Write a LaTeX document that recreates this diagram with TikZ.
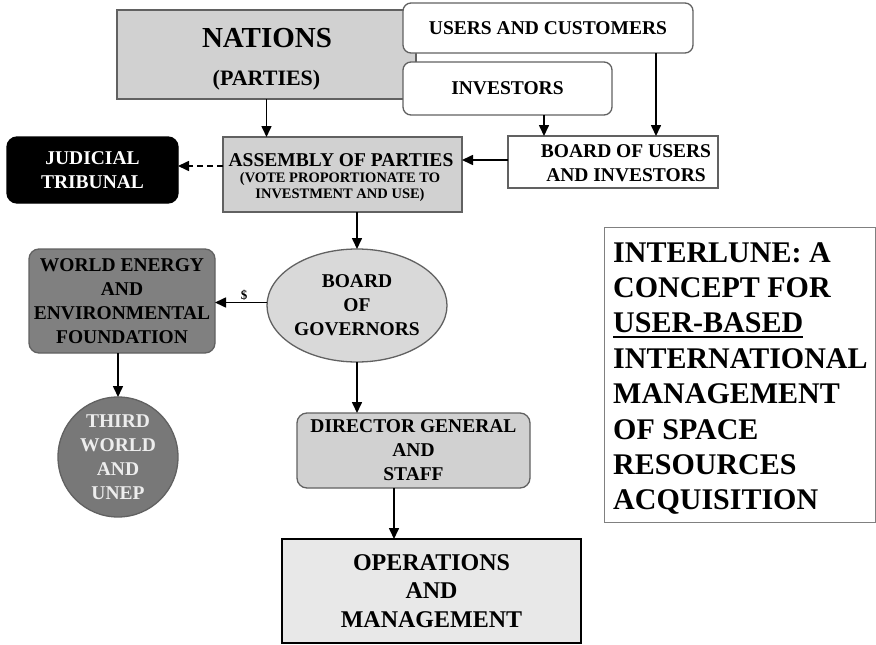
\documentclass[tikz,border=0pt]{standalone}
\usepackage{fontspec}
\setmainfont{Liberation Serif}
\usetikzlibrary{arrows.meta,shapes.geometric}

\definecolor{framegray}{gray}{0.38}
\definecolor{lightbox}{gray}{0.82}
\definecolor{ovalfill}{gray}{0.85}
\definecolor{opsfill}{gray}{0.91}
\definecolor{darkbox}{gray}{0.50}
\definecolor{circlefill}{gray}{0.47}
\definecolor{paletext}{gray}{0.93}

% thick underline drawn just below the baseline
\newsavebox\ulbox
\newcommand\thickul[1]{\sbox\ulbox{#1}\rlap{\rule[-5.5pt]{\wd\ulbox}{2.3pt}}\usebox\ulbox}

\begin{document}
\begin{tikzpicture}[x=1pt,y=-1pt,
  frame/.style={draw=framegray, line width=1.3pt, inner sep=0pt, outer sep=0pt,
    align=center, font=\bfseries\fontsize{19.5}{24}\selectfont},
  textonly/.style={inner sep=0pt, align=center, font=\bfseries\fontsize{19.5}{24}\selectfont},
  arr/.style={line width=1.6pt, -{Triangle[length=11pt,width=10pt]}}]

\useasboundingbox (0,0) rectangle (876,645);

% top row
\node[frame, fill=lightbox, minimum width=299, minimum height=89] (nations) at (266.5,54.5) {};
\node[anchor=base, inner sep=0pt, font=\bfseries\fontsize{29}{29}\selectfont] (nationstitle) at (267,47) {NATIONS};
\node[anchor=base, inner sep=0pt, font=\bfseries\fontsize{22}{22}\selectfont] (partiestitle) at (266.5,85) {(PARTIES)};

\node[frame, fill=white, rounded corners=8pt, minimum width=290, minimum height=50] (users) at (548,28) {USERS AND CUSTOMERS};
\node[frame, fill=white, rounded corners=8pt, minimum width=209, minimum height=53] (investors) at (507.5,88.5) {INVESTORS};

% second row
\node[frame, fill=white, minimum width=210, minimum height=52] (bui) at (613,162) {};
\node[textonly] (buitext) at (626,163.5) {BOARD OF USERS\\AND INVESTORS};

\node[frame, fill=lightbox, minimum width=239, minimum height=75] (assembly) at (342.5,174.5) {};
\node[anchor=base, inner sep=0pt, font=\bfseries\fontsize{19.5}{24}\selectfont] (assemblytitle) at (341,166) {ASSEMBLY OF PARTIES};
\node[textonly, font=\bfseries\fontsize{14.5}{15.5}\selectfont] (assemblynote) at (340,187) {(VOTE PROPORTIONATE TO\\INVESTMENT AND USE)};

\node[frame, draw=black, fill=black, text=white, rounded corners=10pt, minimum width=171, minimum height=66] (judicial) at (92.5,170) {JUDICIAL\\TRIBUNAL};

% governance
\node[frame, ellipse, fill=ovalfill, minimum width=180, minimum height=113] (bog) at (357,305.5) {BOARD\\OF\\GOVERNORS};
\node[frame, fill=darkbox, rounded corners=10pt, minimum width=186, minimum height=104] (wef) at (122,301) {WORLD ENERGY\\AND\\ENVIRONMENTAL\\FOUNDATION};
\node[frame, circle, fill=circlefill, text=paletext, minimum size=120] (third) at (118,457) {THIRD\\WORLD\\AND\\UNEP};

\node[frame, fill=lightbox, rounded corners=10pt, minimum width=233, minimum height=75] (dg) at (413.5,450.5) {DIRECTOR GENERAL\\AND\\STAFF};
\node[frame, draw=black, fill=opsfill, minimum width=299, minimum height=104,
  font=\bfseries\fontsize{24}{28.5}\selectfont] (ops) at (431.5,591) {OPERATIONS\\AND\\MANAGEMENT};

% title panel
\node[frame, fill=white, draw=gray, line width=1pt, minimum width=271, minimum height=295] (panel) at (739.5,374.5) {};
\node[anchor=north west, inner sep=0pt, align=left, font=\bfseries\fontsize{30}{35.4}\selectfont] (paneltext) at (613,242)
  {INTERLUNE: A\\CONCEPT FOR\\\thickul{USER-BASED}\\INTERNATIONAL\\MANAGEMENT\\OF SPACE\\RESOURCES\\ACQUISITION};

% connectors
\coordinate (invx) at (544,0);
\coordinate (usrx) at (656,0);
\coordinate (buiy) at (0,160);
\coordinate (judy) at (0,166);
\coordinate (opsx) at (394,0);

\draw[arr] (nations.south) -- (nations.south |- assembly.north);
\draw[arr] (investors.south -| invx) -- (bui.north -| invx);
\draw[arr] (users.south -| usrx) -- (bui.north -| usrx);
\draw[arr] (bui.west |- buiy) -- (assembly.east |- buiy);
\draw[arr, dash pattern=on 6pt off 4pt] (assembly.west |- judy) -- (judicial.east |- judy);
\draw[arr] (assembly.south -| bog.north) -- (bog.north);
\draw[arr] ([yshift=3pt]bog.west) -- ([yshift=3pt]bog.west -| wef.east)
  node[pos=0.44, above=1pt, inner sep=0pt, font=\bfseries\fontsize{13}{13}\selectfont] (dollar) {\$};
\draw[arr] (wef.south -| third.north) -- (third.north);
\draw[arr] (bog.south) -- (bog.south |- dg.north);
\draw[arr] (dg.south -| opsx) -- (ops.north -| opsx);

\end{tikzpicture}
\end{document}
